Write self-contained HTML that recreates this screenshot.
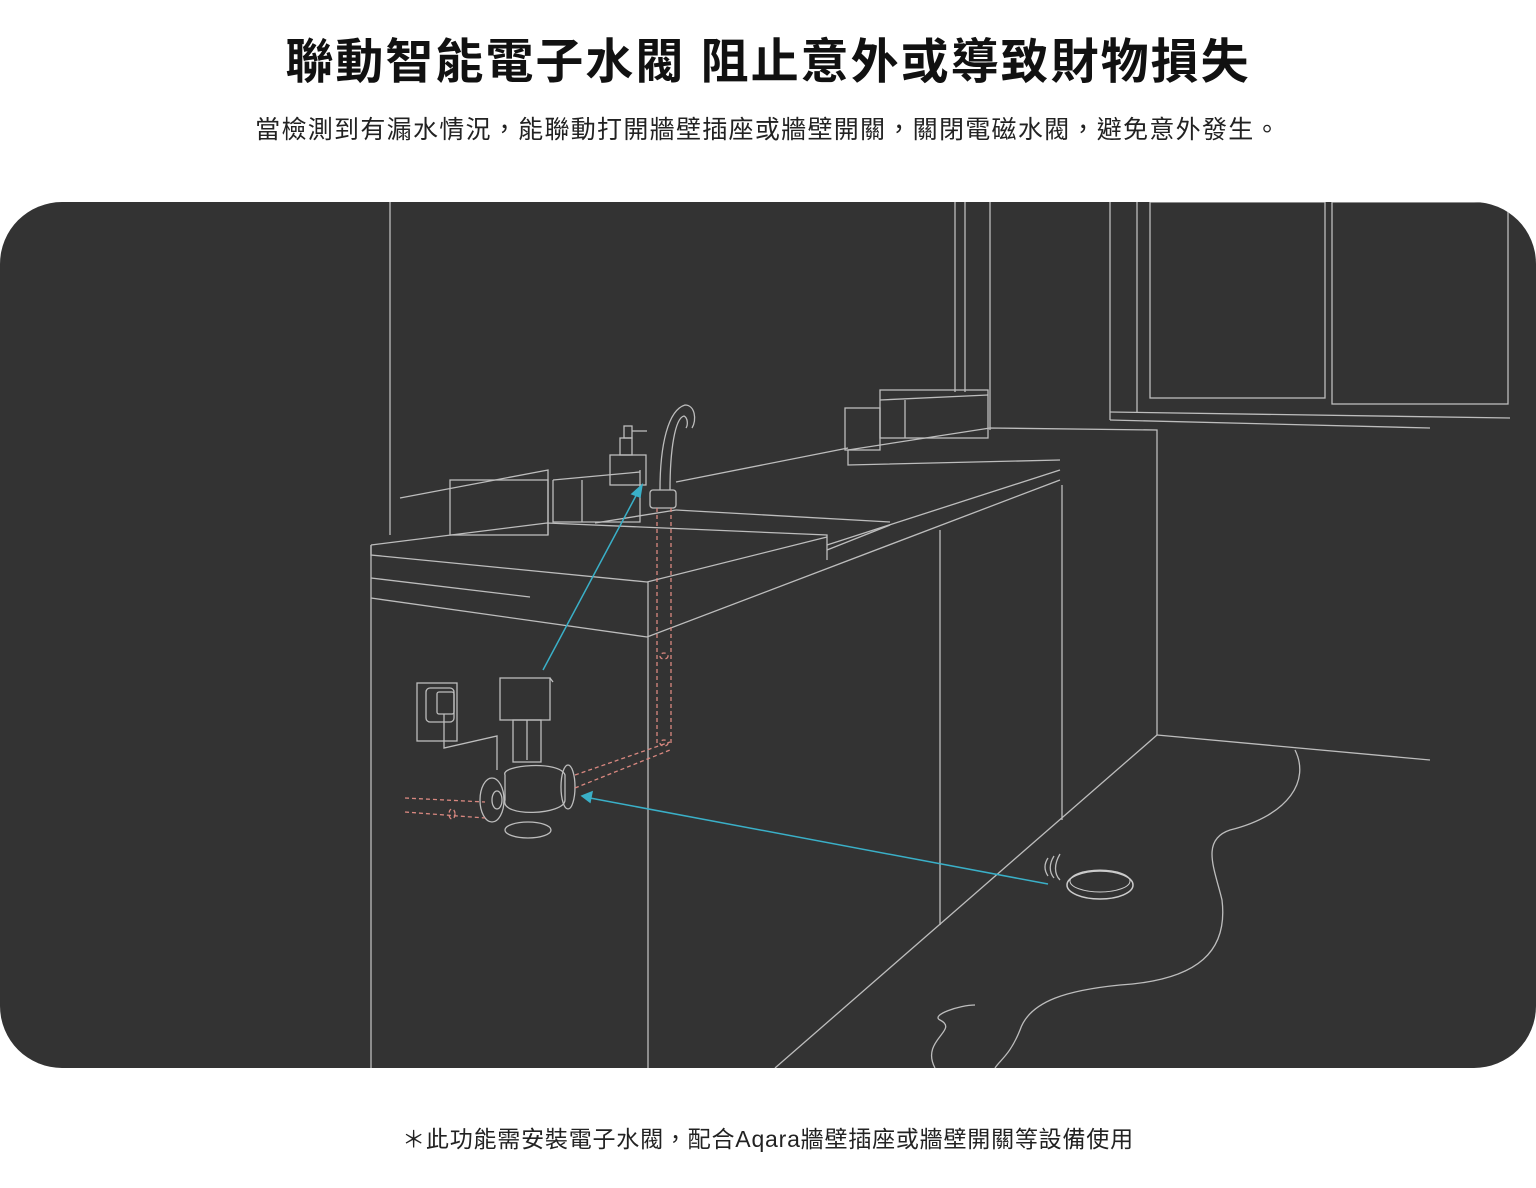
<!DOCTYPE html>
<html><head><meta charset="utf-8"><style>
body{margin:0;width:1536px;height:1188px;background:#fff;position:relative;overflow:hidden;font-family:"Liberation Sans","Noto Sans CJK TC",sans-serif;}
h1{position:absolute;top:22px;left:0;width:1536px;text-align:center;margin:0;font-size:48px;font-weight:700;color:#111;letter-spacing:2px;}
.sub{position:absolute;top:110px;left:0;width:1536px;text-align:center;font-size:25px;color:#222;letter-spacing:1.3px;}
.panel{position:absolute;left:0;top:202px;width:1536px;height:866px;background:#333;border-radius:62px;overflow:hidden;}
.foot{position:absolute;top:1120px;left:0;width:1536px;text-align:center;font-size:23px;color:#222;letter-spacing:0.8px;}
</style></head><body>
<h1>聯動智能電子水閥 阻止意外或導致財物損失</h1>
<div class="sub">當檢測到有漏水情況，能聯動打開牆壁插座或牆壁開關，關閉電磁水閥，避免意外發生。</div>
<div class="panel">
<svg width="1536" height="866" viewBox="0 202 1536 866" xmlns="http://www.w3.org/2000/svg">
<g fill="none" stroke="#bdbdbd" stroke-width="1.3">
<line x1="390" y1="202" x2="390" y2="535"/>
<line x1="955" y1="202" x2="955" y2="392"/>
<line x1="965" y1="202" x2="965" y2="392"/>
<line x1="990" y1="202" x2="990" y2="430"/>
<line x1="1110" y1="202" x2="1110" y2="420"/>
<line x1="1137" y1="202" x2="1137" y2="412"/>
<rect x="1150" y="202" width="175" height="196"/>
<rect x="1332" y="202" width="176" height="202"/>
<line x1="1110" y1="412" x2="1510" y2="418"/>
<line x1="1110" y1="420" x2="1430" y2="428"/>
<polyline points="400,498 548,470 548,535"/>
<rect x="450" y="480" width="98" height="55"/>
<polyline points="553,480 553,522 640,522 640,470"/>
<line x1="553" y1="480" x2="640" y2="472"/>
<line x1="582" y1="480" x2="582" y2="522"/>
<rect x="610" y="455" width="36" height="30"/>
<rect x="620" y="438" width="12" height="17"/>
<rect x="624" y="426" width="8" height="12"/>
<line x1="632" y1="431" x2="647" y2="431"/>
<path d="M660 490 C660 445 668 410 685 405 C695 405 697 420 692 428 M670 490 C670 450 675 418 684 416 C688 418 688 425 686 428"/>
<rect x="650" y="490" width="26" height="18" rx="3"/>
<rect x="845" y="408" width="35" height="42"/>
<rect x="880" y="390" width="108" height="48"/>
<line x1="880" y1="400" x2="988" y2="395"/>
<line x1="905" y1="400" x2="905" y2="438"/>
<polyline points="848,450 990,428 1157,430 1157,735"/>
<polyline points="848,450 848,465 1060,460"/>
<line x1="676" y1="482" x2="848" y2="448"/>
<polyline points="371,545 547,523 827,535 827,560"/>
<polyline points="371,545 371,555 647,582 827,537"/>
<line x1="371" y1="578" x2="530" y2="597"/>
<line x1="371" y1="598" x2="647" y2="637"/>
<line x1="647" y1="637" x2="1060" y2="480"/>
<line x1="827" y1="545" x2="1060" y2="470"/>
<line x1="595" y1="523" x2="676" y2="510"/>
<line x1="676" y1="510" x2="890" y2="522"/>
<line x1="827" y1="550" x2="890" y2="525"/>
<line x1="371" y1="545" x2="371" y2="1068"/>
<line x1="648" y1="582" x2="648" y2="1068"/>
<line x1="940" y1="530" x2="940" y2="925"/>
<line x1="1062" y1="485" x2="1062" y2="820"/>
<line x1="775" y1="1068" x2="1157" y2="735"/>
<line x1="1157" y1="735" x2="1430" y2="760"/>
<path d="M1295 750 C1310 780 1290 815 1230 830 C1200 840 1215 870 1222 900 C1228 950 1200 980 1120 985 C1070 990 1030 1000 1020 1030 C1010 1055 1000 1060 995 1068"/>
<path d="M935 1068 C920 1040 960 1030 940 1020 C930 1015 960 1005 975 1005"/>
<rect x="417" y="683" width="40" height="58"/>
<rect x="426" y="688" width="28" height="34" rx="4"/>
<rect x="437" y="692" width="17" height="22" rx="2"/>
<polyline points="444,714 444,748 497,736 497,770"/>
<rect x="500" y="678" width="50" height="42"/>
<line x1="550" y1="678" x2="553" y2="682"/>
<rect x="513" y="720" width="28" height="42"/>
<line x1="527" y1="720" x2="527" y2="760"/>
<path d="M505 775 C500 765 560 760 565 775 L565 800 C565 815 500 818 505 800 Z"/>
<ellipse cx="492" cy="800" rx="12" ry="22"/>
<ellipse cx="497" cy="800" rx="5" ry="9"/>
<ellipse cx="568" cy="787" rx="7" ry="22"/>
<ellipse cx="528" cy="830" rx="23" ry="8"/>
</g>
<g fill="none" stroke="#d98880" stroke-width="1.3" stroke-dasharray="4,3">
<line x1="657" y1="508" x2="657" y2="745"/>
<line x1="671" y1="508" x2="671" y2="745"/>
<line x1="575" y1="775" x2="670" y2="742"/>
<line x1="575" y1="788" x2="670" y2="750"/>
<line x1="405" y1="798" x2="485" y2="802"/>
<line x1="405" y1="812" x2="485" y2="818"/>
<ellipse cx="664" cy="656" rx="4" ry="3"/>
<ellipse cx="664" cy="743" rx="4" ry="3"/>
<ellipse cx="452" cy="814" rx="3" ry="5"/>
</g>
<g stroke="#3ab0c8" stroke-width="1.5" fill="#3ab0c8">
<line x1="543" y1="670" x2="638" y2="492"/>
<polygon points="642,485 632,494 640,497"/>
<line x1="1048" y1="884" x2="590" y2="798"/>
<polygon points="582,796 592,792 590,802"/>
</g>
<g fill="none" stroke="#bdbdbd" stroke-width="1.3">
<path d="M1048 858 C1044 864 1044 870 1048 876 M1054 856 C1049 864 1049 872 1054 878 M1060 854 C1054 864 1054 874 1060 880"/>
</g>
<ellipse cx="1100" cy="885" rx="33" ry="14" fill="#333" stroke="#ccc" stroke-width="1.5"/>
<ellipse cx="1100" cy="881" rx="30" ry="11" fill="none" stroke="#ccc" stroke-width="1"/>
</svg>
</div>
<div class="foot">＊此功能需安裝電子水閥，配合Aqara牆壁插座或牆壁開關等設備使用</div>
</body></html>
